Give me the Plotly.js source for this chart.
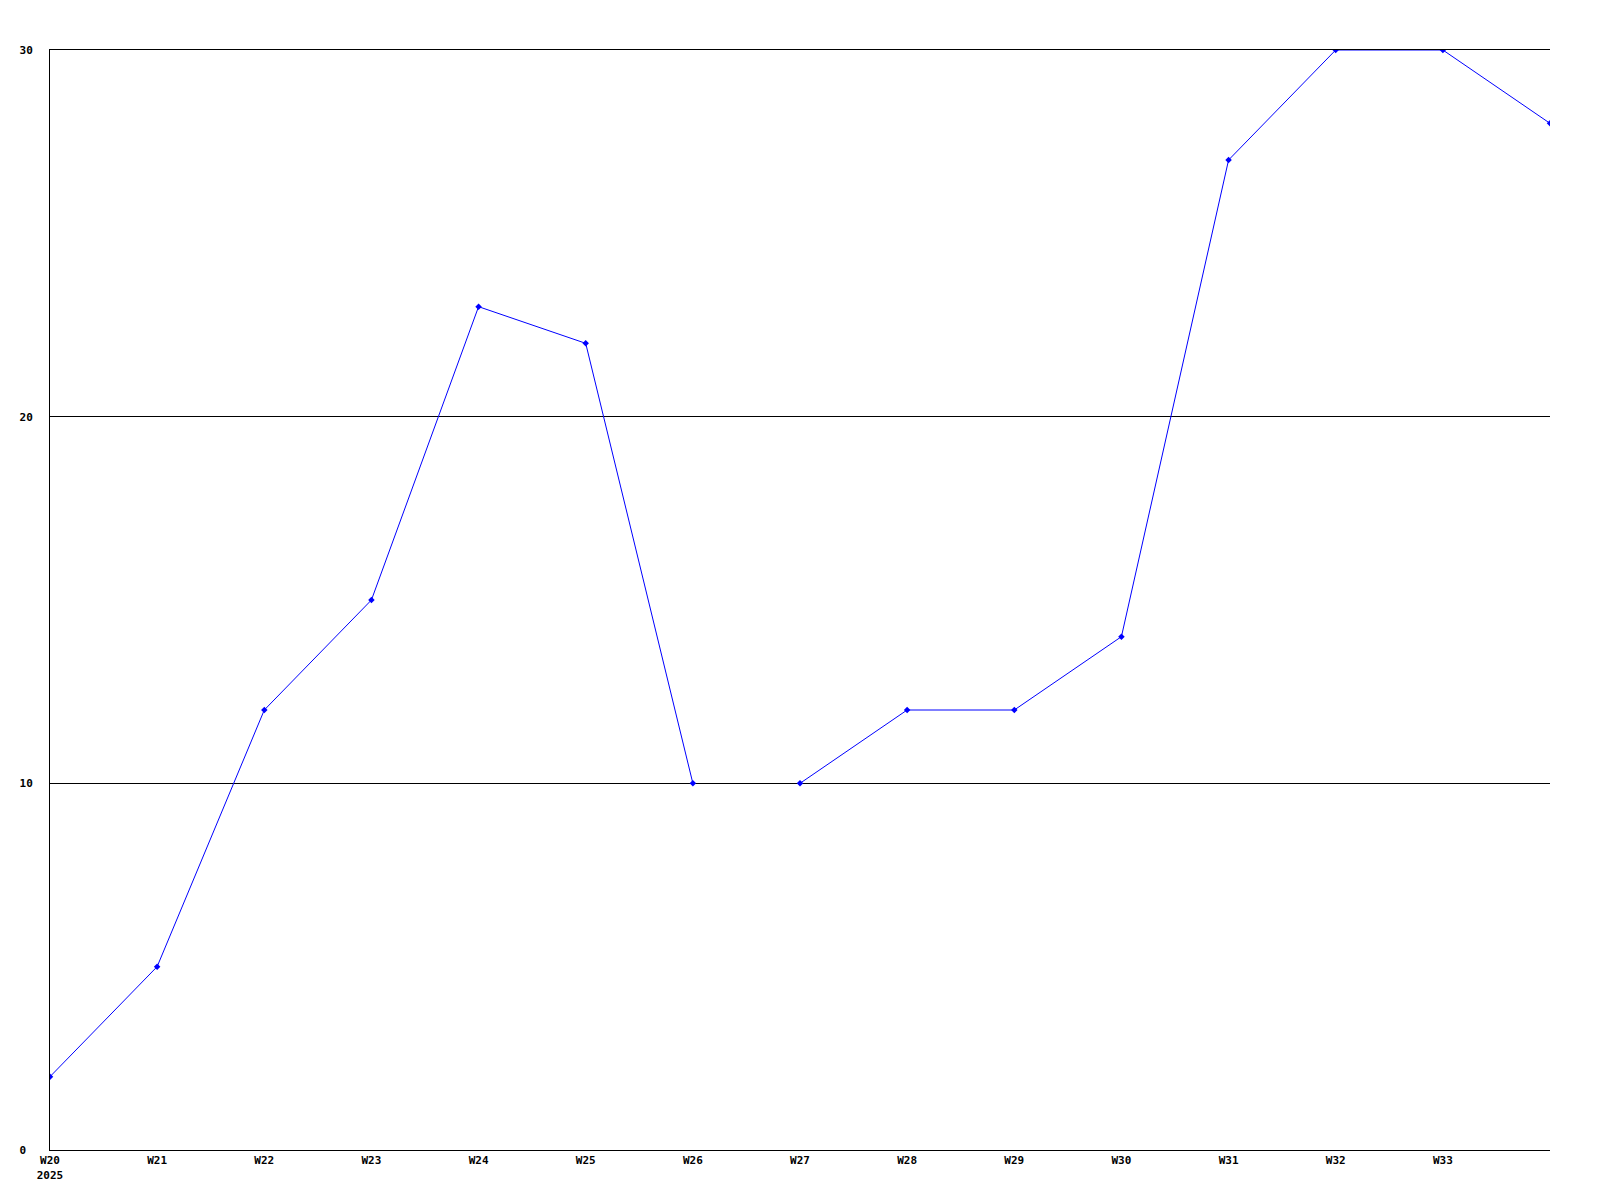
<!DOCTYPE html>
<html>
<head>
<meta charset="utf-8">
<script src="https://cdn.plot.ly/plotly-3.0.1.min.js"></script>
<style>html,body{margin:0;padding:0;background:#fff;}#chart{width:1600px;height:1200px;}</style>
</head>
<body>
<div id="chart"></div>
<script>
// Week numbers and values (line is broken between W26 and W27)
const weeksA = [20, 21, 22, 23, 24, 25, 26];
const valuesA = [2, 5, 12, 15, 23, 22, 10];
const weeksB = [27, 28, 29, 30, 31, 32, 33, 34];
const valuesB = [10, 12, 12, 14, 27, 30, 30, 28];
const tickWeeks = [20, 21, 22, 23, 24, 25, 26, 27, 28, 29, 30, 31, 32, 33];
const tickLabels = ["W20<br>2025", "W21", "W22", "W23", "W24", "W25", "W26", "W27", "W28", "W29", "W30", "W31", "W32", "W33"];
const yTicks = [0, 10, 20, 30];
const yTickLabels = ["0\u00a0", "10", "20", "30"];

const lineStyle = {color: '#0000ff', width: 1};
const markerStyle = {color: '#0000ff', size: 5, symbol: 'diamond'};

const traces = [
  {x: weeksA, y: valuesA, type: 'scatter', mode: 'lines+markers', line: lineStyle, marker: markerStyle, showlegend: false},
  {x: weeksB, y: valuesB, type: 'scatter', mode: 'lines+markers', line: lineStyle, marker: markerStyle, showlegend: false}
];

const tickFont = {family: 'DejaVu Sans Mono', size: 11, weight: 'bold', color: '#000'};
const yMax = yTicks[yTicks.length - 1];

const layout = {
  width: 1600, height: 1200,
  margin: {l: 50, r: 50, t: 50, b: 50, pad: 0},
  paper_bgcolor: '#fff', plot_bgcolor: '#fff',
  showlegend: false,
  xaxis: {
    range: [20, 34], tickmode: 'array', tickvals: tickWeeks, ticktext: tickLabels,
    showgrid: false, zeroline: false, showline: true, mirror: true, linecolor: '#000', linewidth: 1,
    ticks: '', tickfont: tickFont, fixedrange: true
  },
  yaxis: {
    range: [0, yMax], tickmode: 'array', tickvals: yTicks, ticktext: yTickLabels,
    showgrid: true, gridcolor: '#000', gridwidth: 1,
    zeroline: false, showline: true, linecolor: '#000', linewidth: 1,
    ticks: 'outside', ticklen: 14, tickcolor: 'rgba(0,0,0,0)', tickfont: tickFont, fixedrange: true
  }
};

Plotly.newPlot('chart', traces, layout, {displayModeBar: false, staticPlot: true});
</script>
</body>
</html>
